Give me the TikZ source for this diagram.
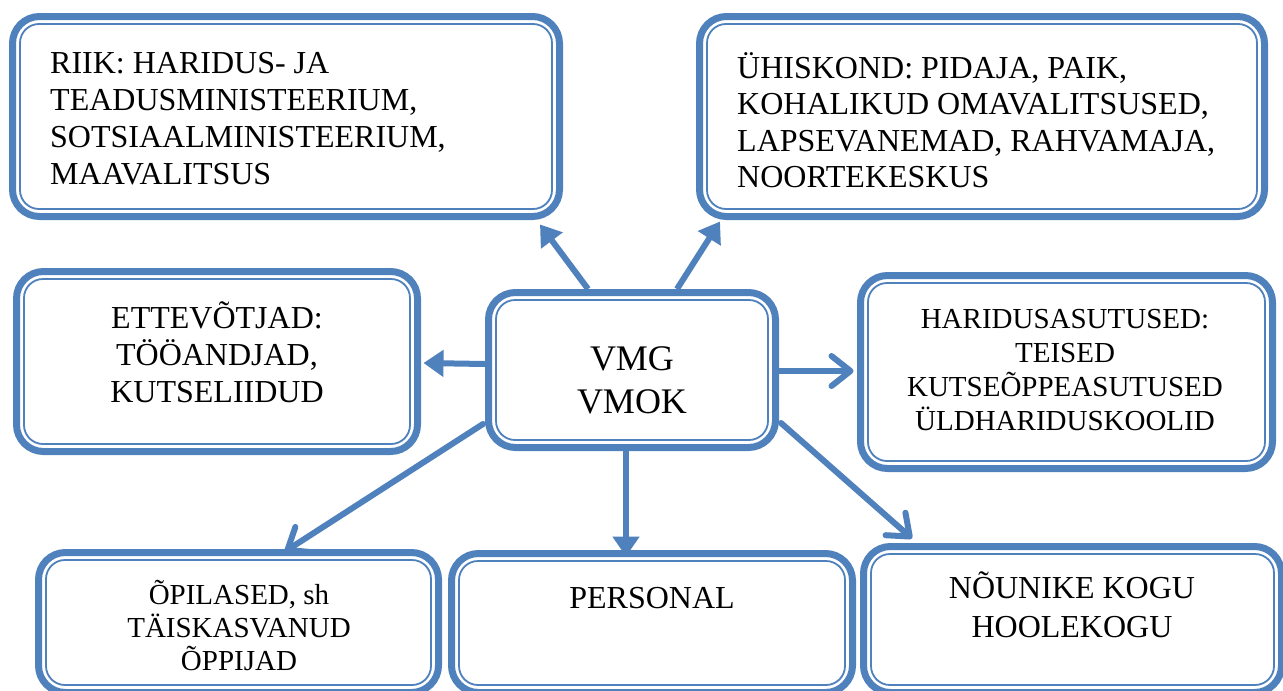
\documentclass[tikz,border=0pt]{standalone}
\usepackage{fontspec}
\setmainfont{Liberation Serif}
\usetikzlibrary{arrows.meta,calc}
\definecolor{bblue}{HTML}{4F81BD}
\tikzset{
  box/.style={draw=bblue, line width=7pt, rounded corners=27pt, fill=white, inner sep=0pt},
  inbox/.style={draw=bblue, line width=1.8pt, rounded corners=19pt},
  lbl/.style={inner sep=0pt, text=black},
  conn/.style={draw=bblue, line width=6pt},
  fillhead/.style={conn, -{Triangle[length=20pt,width=26pt]}},
  openhead/.style={conn, -{Straight Barb[length=19pt,width=30pt,line width=6pt,round]}, line cap=round},
}
\newcommand{\bx}[5]{%
  \node[box, minimum width={#4-#2-7}, minimum height={#5-#3-7}] (#1) at ({(#2+#4)/2},{(#3+#5)/2}) {};
  \draw[inbox] ({#2+11},{#3+11}) rectangle ({#4-11},{#5-11});}
\begin{document}
\begin{tikzpicture}[x=1pt,y=-1pt]
\fill[white] (0,0) rectangle (1283,691);
\useasboundingbox (0,0) rectangle (1283,691);
\bx{A}{9}{13}{563}{220}
\bx{B}{696}{13}{1268}{220}
\bx{C}{13}{268}{421}{455}
\bx{D}{485}{289}{779}{451}
\bx{E}{857}{272}{1276}{472}
\bx{F}{35}{549}{442}{696}
\bx{G}{448}{550}{856}{696}
\bx{H}{860}{543}{1285}{696}
% texts
\node[lbl, anchor=north west, align=left, font=\fontsize{32}{37}\selectfont] (tA) at (50,45)
  {\rule{0pt}{28pt}RIIK: HARIDUS- JA\\TEADUSMINISTEERIUM,\\SOTSIAALMINISTEERIUM,\\MAAVALITSUS};
\node[lbl, anchor=north west, align=left, font=\fontsize{32}{36.5}\selectfont] (tB) at (737,50)
  {\rule{0pt}{28pt}ÜHISKOND: PIDAJA, PAIK,\\KOHALIKUD OMAVALITSUSED,\\LAPSEVANEMAD, RAHVAMAJA,\\NOORTEKESKUS};
\node[lbl, anchor=north, align=center, font=\fontsize{32}{37}\selectfont] (tC) at (217,300)
  {\rule{0pt}{28pt}ETTEVÕTJAD:\\TÖÖANDJAD,\\KUTSELIIDUD};
\node[lbl, anchor=north, align=center, font=\fontsize{36}{43}\selectfont] (tD) at (632,340)
  {\rule{0pt}{30pt}VMG\\VMOK};
\node[lbl, anchor=north, align=center, font=\fontsize{29}{34}\selectfont] (tE) at (1065,302)
  {\rule{0pt}{26pt}HARIDUSASUTUSED:\\TEISED\\KUTSEÕPPEASUTUSED\\ÜLDHARIDUSKOOLID};
\node[lbl, anchor=north, align=center, font=\fontsize{29}{33}\selectfont] (tF) at (239,578)
  {\rule{0pt}{26pt}ÕPILASED, sh\\TÄISKASVANUD\\ÕPPIJAD};
\node[lbl, anchor=north, align=center, font=\fontsize{32}{37}\selectfont] (tG) at (652,580)
  {\rule{0pt}{28pt}PERSONAL};
\node[lbl, anchor=north, align=center, font=\fontsize{32}{39}\selectfont] (tH) at (1072,570)
  {\rule{0pt}{28pt}NÕUNIKE KOGU\\HOOLEKOGU};
% connectors
\draw[fillhead] ($(D.north)+(-44,0)$) -- ($(A.south)+(254,4.5)$);
\draw[fillhead] ($(D.north)+(45,0)$) -- ($(B.south)+(-262,1.5)$);
\draw[fillhead] ($(D.west)+(0,-6)$) -- ($(C.east)+(2.5,1.5)$);
\draw[openhead] ($(D.east)+(0,1)$) -- ($(E.west)+(-3.5,-1)$);
\draw[openhead] ($(D.west)+(-2,54)$) -- ($(F.north)+(46.5,2.5)$);
\draw[fillhead] ($(D.south)+(-6,0)$) -- ($(G.north)+(-26,6.5)$);
\draw[openhead] ($(D.east)+(2,53)$) -- ($(H.north)+(-160.5,-4.5)$);
\end{tikzpicture}
\end{document}
